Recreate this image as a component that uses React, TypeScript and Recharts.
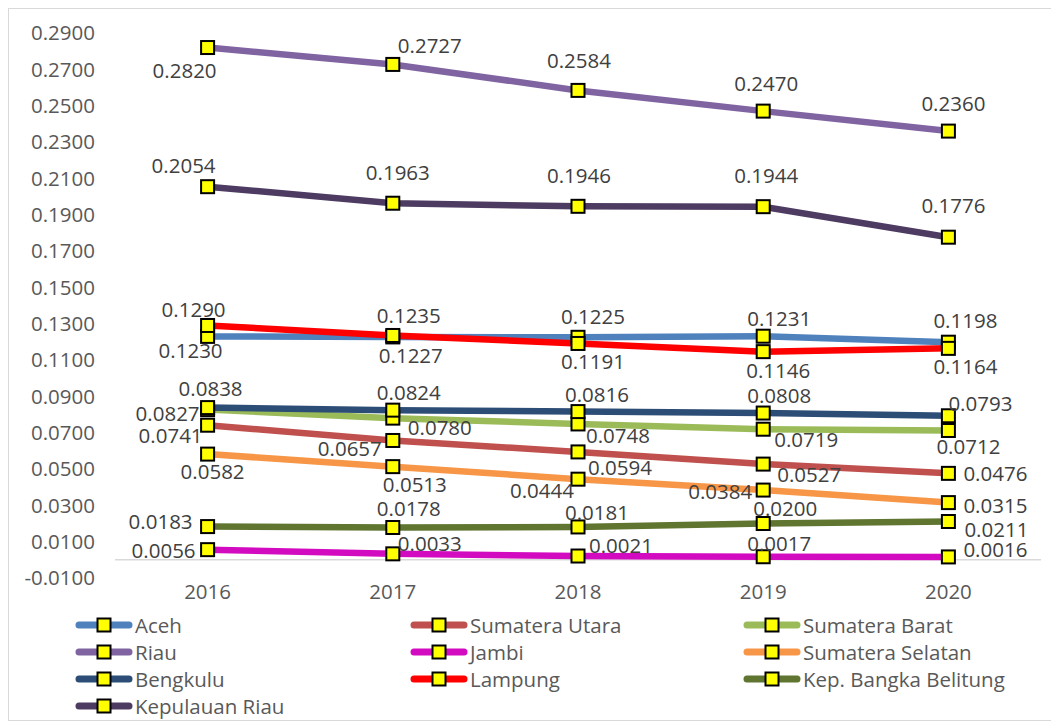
import React from "react";
import { LineChart, Line, XAxis, YAxis, ReferenceLine, LabelList } from "recharts";

// values
const years = ["2016", "2017", "2018", "2019", "2020"];
const aceh = [0.123, 0.1227, 0.1225, 0.1231, 0.1198];
const sumateraUtara = [0.0741, 0.0657, 0.0594, 0.0527, 0.0476];
const sumateraBarat = [0.0827, 0.078, 0.0748, 0.0719, 0.0712];
const riau = [0.282, 0.2727, 0.2584, 0.247, 0.236];
const jambi = [0.0056, 0.0033, 0.0021, 0.0017, 0.0016];
const sumateraSelatan = [0.0582, 0.0513, 0.0444, 0.0384, 0.0315];
const bengkulu = [0.0838, 0.0824, 0.0816, 0.0808, 0.0793];
const lampung = [0.129, 0.1235, 0.1191, 0.1146, 0.1164];
const bangkaBelitung = [0.0183, 0.0178, 0.0181, 0.02, 0.0211];
const kepulauanRiau = [0.2054, 0.1963, 0.1946, 0.1944, 0.1776];
const yTicks = [-0.01, 0.01, 0.03, 0.05, 0.07, 0.09, 0.11, 0.13, 0.15, 0.17, 0.19, 0.21, 0.23, 0.25, 0.27, 0.29];

type Offset = [number, number];

// where each data label sits relative to its marker (dx, dy)
const labelOffsets: Record<string, Offset[]> = {
  aceh: [[-17, 14], [18, 18], [15, -21], [16, -18], [17, -22]],
  sumut: [[-37, 10], [-43, 8], [42, 15], [46, 10], [47, 0]],
  sumbar: [[-40, 3], [47, 9], [40, 11], [43, 10], [20, 16]],
  riau: [[-23, 22], [37, -19], [1, -30], [3, -28], [5, -28]],
  jambi: [[-44, 0], [37, -11], [43, -11], [16, -14], [47, -8]],
  sumsel: [[5, 17], [22, 17], [-36, 11], [-43, 1], [47, 2]],
  bengkulu: [[3, -20], [16, -18], [19, -18], [16, -18], [32, -13]],
  lampung: [[-14, -16], [16, -20], [15, 18], [15, 18], [17, 18]],
  bangka: [[-47, -6], [16, -19], [19, -15], [22, -16], [48, 7]],
  kepri: [[-24, -22], [5, -31], [1, -31], [3, -32], [5, -32]],
};

const series = [
  { key: "aceh", name: "Aceh", values: aceh, color: "#4F81BD" },
  { key: "sumut", name: "Sumatera Utara", values: sumateraUtara, color: "#C0504D" },
  { key: "sumbar", name: "Sumatera Barat", values: sumateraBarat, color: "#9BBB59" },
  { key: "riau", name: "Riau", values: riau, color: "#8064A2" },
  { key: "jambi", name: "Jambi", values: jambi, color: "#D30BC0" },
  { key: "sumsel", name: "Sumatera Selatan", values: sumateraSelatan, color: "#F79646" },
  { key: "bengkulu", name: "Bengkulu", values: bengkulu, color: "#2C4D75" },
  { key: "lampung", name: "Lampung", values: lampung, color: "#FF0000" },
  { key: "bangka", name: "Kep. Bangka Belitung", values: bangkaBelitung, color: "#5F7530" },
  { key: "kepri", name: "Kepulauan Riau", values: kepulauanRiau, color: "#4D3B62" },
];

const data = years.map((year, i) => {
  const row: Record<string, string | number> = { year };
  series.forEach((s) => {
    row[s.key] = s.values[i];
  });
  return row;
});

const FONT = "'Open Sans', sans-serif";

const SquareDot = (props: any) => {
  const { cx, cy } = props;
  if (cx == null || cy == null) return null;
  return <rect x={cx - 6.5} y={cy - 6.5} width={13} height={13} fill="#FFFF00" stroke="#000" strokeWidth={2} />;
};

const makeLabel = (key: string) => (props: any) => {
  const { x, y, value, index } = props;
  const [dx, dy] = labelOffsets[key][index] || [0, -20];
  return (
    <text
      x={x + dx}
      y={y + dy}
      textAnchor="middle"
      dominantBaseline="central"
      fontFamily={FONT}
      fontSize={20.5}
      fill="#404040"
    >
      {Number(value).toFixed(4)}
    </text>
  );
};

const LegendIcon = ({ color }: { color: string }) => (
  <svg width={60} height={16} style={{ display: "block" }}>
    <line x1={4} y1={8} x2={54} y2={8} stroke={color} strokeWidth={7} strokeLinecap="round" />
    <rect x={22.5} y={1.5} width={13} height={13} fill="#FFFF00" stroke="#000" strokeWidth={2} />
  </svg>
);

export default function App() {
  return (
    <div
      style={{
        position: "relative",
        width: 1046,
        height: 711,
        border: "1px solid #d9d9d9",
        background: "#fff",
      }}
    >
      <LineChart width={1046} height={711} data={data} margin={{ top: 24, right: 14, left: 0, bottom: 112 }}>
        <XAxis
          dataKey="year"
          scale="band"
          axisLine={false}
          tickLine={false}
          tickSize={0}
          tickMargin={6}
          height={30}
          tick={{ fontSize: 20.5, fill: "#595959", fontFamily: FONT }}
        />
        <YAxis
          type="number"
          domain={[-0.01, 0.29]}
          ticks={yTicks}
          interval={0}
          width={106}
          axisLine={false}
          tickLine={false}
          tickSize={0}
          tickMargin={20}
          tickFormatter={(v: number) => v.toFixed(4)}
          tick={{ fontSize: 20.5, fill: "#595959", fontFamily: FONT }}
        />
        <ReferenceLine y={0} stroke="#d9d9d9" strokeWidth={1.5} />
        {series.map((s) => (
          <Line
            key={s.key}
            dataKey={s.key}
            name={s.name}
            type="linear"
            stroke={s.color}
            strokeWidth={6.5}
            dot={<SquareDot />}
            activeDot={false}
            isAnimationActive={false}
          >
            <LabelList dataKey={s.key} content={makeLabel(s.key)} />
          </Line>
        ))}
      </LineChart>
      <div
        style={{
          position: "absolute",
          left: 66,
          top: 602,
          display: "grid",
          gridTemplateColumns: "335px 333px 300px",
          gridAutoRows: "27px",
          fontFamily: FONT,
          fontSize: 20.5,
          color: "#595959",
        }}
      >
        {series.map((s) => (
          <div key={s.key} style={{ display: "flex", alignItems: "center", whiteSpace: "nowrap" }}>
            <LegendIcon color={s.color} />
            <span>{s.name}</span>
          </div>
        ))}
      </div>
    </div>
  );
}
